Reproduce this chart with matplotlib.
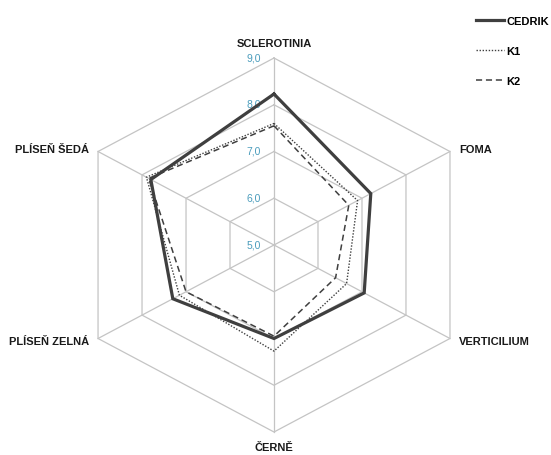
import numpy as np
import matplotlib
matplotlib.use("Agg")
import matplotlib.pyplot as plt

plt.rcParams['font.family'] = ['Liberation Sans', 'DejaVu Sans']

# data
categories = ['SCLEROTINIA', 'FOMA', 'VERTICILIUM', 'ČERNĚ', 'PLÍSEŇ ZELNÁ', 'PLÍSEŇ ŠEDÁ']
cedrik = [8.23, 7.2, 7.05, 7.0, 7.3, 7.8]
k1 = [7.6, 6.9, 6.65, 7.27, 7.15, 7.9]
k2 = [7.55, 6.7, 6.4, 6.95, 7.0, 7.85]
ticks = [5.0, 6.0, 7.0, 8.0, 9.0]
rmin, rmax = 5.0, 9.0

n = len(categories)
ang = np.arange(n) * 2 * np.pi / n


def to_xy(vals):
    r = np.asarray(vals) - rmin
    x = r * np.sin(ang)
    y = r * np.cos(ang)
    return np.append(x, x[0]), np.append(y, y[0])


fig = plt.figure(figsize=(5.51, 4.56), dpi=100)
ax = fig.add_axes([0, 0, 1, 1])
ax.set_xlim(-5.394, 5.453)
ax.set_ylim(-4.492, 5.262)
ax.axis('off')

grid_c = '#c4c4c4'
# hexagon grid
for t in ticks[1:]:
    gx, gy = to_xy([t] * n)
    ax.plot(gx, gy, color=grid_c, lw=0.9, zorder=1)
# spokes
R = rmax - rmin
for a in ang:
    ax.plot([0, R * np.sin(a)], [0, R * np.cos(a)], color=grid_c, lw=0.9, zorder=1)

# tick labels
for t in ticks:
    ax.text(-0.25, t - rmin + 0.02, f'{t:.1f}'.replace('.', ','), ha='right', va='center',
            fontsize=7.5, color='#4a9cbc')

# series
line_c = '#3f3f3f'
x, y = to_xy(cedrik)
ax.plot(x, y, color=line_c, lw=2.3, label='CEDRIK', zorder=4, solid_joinstyle='miter')
x, y = to_xy(k1)
ax.plot(x, y, color=line_c, lw=1.0, ls=(0, (1, 1.2)), label='K1', zorder=3)
x, y = to_xy(k2)
ax.plot(x, y, color=line_c, lw=1.1, ls=(0, (4, 2.5)), label='K2', zorder=3)

# category labels
lab_kw = dict(fontsize=8, fontweight='bold', color='#1a1a1a')
off = 0.18
ax.text(0, R + 0.32, categories[0], ha='center', va='center', **lab_kw)
ax.text(R * np.sin(ang[1]) + off, R * np.cos(ang[1]) + 0.06, categories[1], ha='left', va='center', **lab_kw)
ax.text(R * np.sin(ang[2]) + off, R * np.cos(ang[2]) - 0.06, categories[2], ha='left', va='center', **lab_kw)
ax.text(0, -R - 0.33, categories[3], ha='center', va='center', **lab_kw)
ax.text(R * np.sin(ang[4]) - off, R * np.cos(ang[4]) - 0.06, categories[4], ha='right', va='center', **lab_kw)
ax.text(R * np.sin(ang[5]) - off, R * np.cos(ang[5]) + 0.06, categories[5], ha='right', va='center', **lab_kw)

leg = ax.legend(loc='upper left', bbox_to_anchor=(0.855, 0.972), frameon=False,
                handlelength=2.6, handletextpad=0.15, labelspacing=1.8,
                borderaxespad=0.0, prop={'size': 8, 'weight': 'bold'})

fig.savefig('out.png', dpi=100)
